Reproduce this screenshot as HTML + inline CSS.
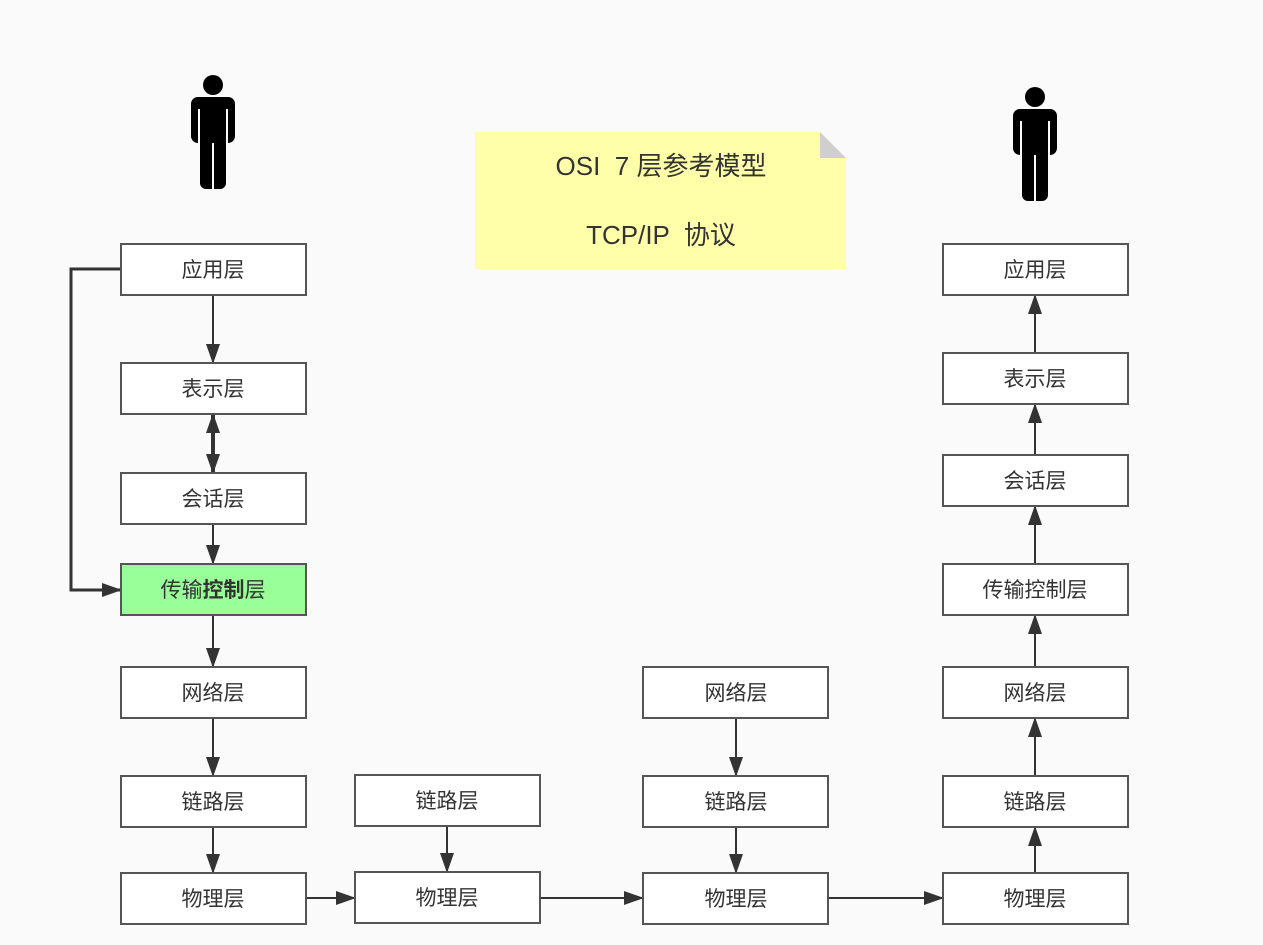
<!DOCTYPE html>
<html><head><meta charset="utf-8"><style>
html,body{margin:0;padding:0;background:#fafafa;}
svg{display:block;font-family:"Liberation Sans","Noto Sans CJK SC",sans-serif;}
</style></head><body>
<svg width="1263" height="945" viewBox="0 0 1263 945" xmlns="http://www.w3.org/2000/svg">
<defs>
<marker id="a" viewBox="0 0 20 14" refX="19" refY="7" markerWidth="20" markerHeight="14" markerUnits="userSpaceOnUse" orient="auto-start-reverse"><path d="M0,0 L20,7 L0,14 Z" fill="#333"/></marker>
<g id="person">
<circle cx="0" cy="0" r="10" fill="#000"/>
<rect x="-22" y="12" width="44" height="46" rx="7" fill="#000"/>
<rect x="-13" y="40" width="26" height="64" rx="6" fill="#000"/>
<line x1="-14" y1="24" x2="-14" y2="58" stroke="#fafafa" stroke-width="2"/>
<line x1="14" y1="24" x2="14" y2="58" stroke="#fafafa" stroke-width="2"/>
<line x1="0" y1="58" x2="0" y2="104" stroke="#fafafa" stroke-width="2"/>
</g>
</defs>
<use href="#person" x="213" y="85"/>
<use href="#person" x="1035" y="97"/>

<!-- note -->
<path d="M475,132 H820 L846,158 V269 H475 Z" fill="#ffffaa"/>
<path d="M820,132 L846,158 H820 Z" fill="#cfcfcf"/>
<text x="661" y="175" font-size="26" text-anchor="middle" fill="#333" xml:space="preserve" style="white-space:pre">OSI  7 层参考模型</text>
<text x="661" y="244" font-size="26" text-anchor="middle" fill="#333" xml:space="preserve" style="white-space:pre">TCP/IP  协议</text>

<g stroke="#333" stroke-width="2" fill="none">
<line x1="213" y1="295" x2="213" y2="363" marker-end="url(#a)"/>
<line x1="213" y1="414" x2="213" y2="473" stroke-width="4" marker-start="url(#a)" marker-end="url(#a)"/>
<line x1="213" y1="524" x2="213" y2="564" marker-end="url(#a)"/>
<line x1="213" y1="615" x2="213" y2="667" marker-end="url(#a)"/>
<line x1="213" y1="718" x2="213" y2="776" marker-end="url(#a)"/>
<line x1="213" y1="827" x2="213" y2="873" marker-end="url(#a)"/>
<path d="M121,269 H71 V590 H121" stroke-width="3" marker-end="url(#a)"/>
<line x1="306" y1="898" x2="355" y2="898" marker-end="url(#a)"/>
<line x1="540" y1="898" x2="643" y2="898" marker-end="url(#a)"/>
<line x1="828" y1="898" x2="943" y2="898" marker-end="url(#a)"/>
<line x1="447" y1="826" x2="447" y2="872" marker-end="url(#a)"/>
<line x1="736" y1="718" x2="736" y2="776" marker-end="url(#a)"/>
<line x1="736" y1="827" x2="736" y2="873" marker-end="url(#a)"/>
<line x1="1035" y1="873" x2="1035" y2="827" marker-end="url(#a)"/>
<line x1="1035" y1="776" x2="1035" y2="718" marker-end="url(#a)"/>
<line x1="1035" y1="667" x2="1035" y2="615" marker-end="url(#a)"/>
<line x1="1035" y1="564" x2="1035" y2="506" marker-end="url(#a)"/>
<line x1="1035" y1="455" x2="1035" y2="404" marker-end="url(#a)"/>
<line x1="1035" y1="353" x2="1035" y2="295" marker-end="url(#a)"/>
</g>

<g stroke="#555" stroke-width="2" fill="#fff">
<rect x="121" y="244" width="185" height="51"/>
<rect x="121" y="363" width="185" height="51"/>
<rect x="121" y="473" width="185" height="51"/>
<rect x="121" y="564" width="185" height="51" fill="#99ff99"/>
<rect x="121" y="667" width="185" height="51"/>
<rect x="121" y="776" width="185" height="51"/>
<rect x="121" y="873" width="185" height="51"/>
<rect x="355" y="775" width="185" height="51"/>
<rect x="355" y="872" width="185" height="51"/>
<rect x="643" y="667" width="185" height="51"/>
<rect x="643" y="776" width="185" height="51"/>
<rect x="643" y="873" width="185" height="51"/>
<rect x="943" y="244" width="185" height="51"/>
<rect x="943" y="353" width="185" height="51"/>
<rect x="943" y="455" width="185" height="51"/>
<rect x="943" y="564" width="185" height="51"/>
<rect x="943" y="667" width="185" height="51"/>
<rect x="943" y="776" width="185" height="51"/>
<rect x="943" y="873" width="185" height="51"/>
</g>

<g font-size="21" text-anchor="middle" fill="#333">
<text x="213" y="277">应用层</text>
<text x="213" y="396">表示层</text>
<text x="213" y="506">会话层</text>
<text x="213" y="597">传输<tspan font-weight="bold">控制</tspan>层</text>
<text x="213" y="700">网络层</text>
<text x="213" y="809">链路层</text>
<text x="213" y="906">物理层</text>
<text x="447" y="808">链路层</text>
<text x="447" y="905">物理层</text>
<text x="736" y="700">网络层</text>
<text x="736" y="809">链路层</text>
<text x="736" y="906">物理层</text>
<text x="1035" y="277">应用层</text>
<text x="1035" y="386">表示层</text>
<text x="1035" y="488">会话层</text>
<text x="1035" y="597">传输控制层</text>
<text x="1035" y="700">网络层</text>
<text x="1035" y="809">链路层</text>
<text x="1035" y="906">物理层</text>
</g>
</svg>
</body></html>
